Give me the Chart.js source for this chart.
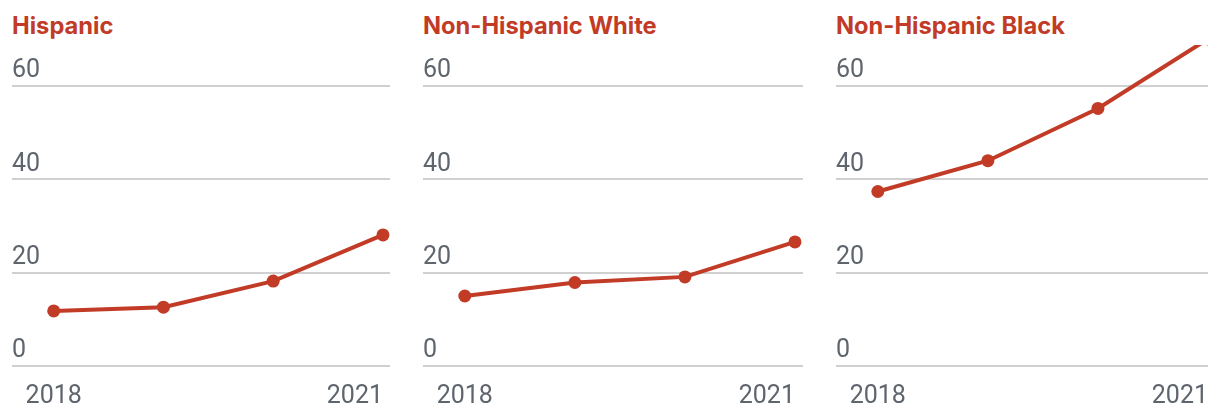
<!DOCTYPE html>
<html>
<head>
<meta charset="utf-8">
<script src="https://cdn.jsdelivr.net/npm/chart.js@4"></script>
<style>
  html, body { margin: 0; padding: 0; background: #fff; }
  body { width: 1220px; height: 416px; position: relative; overflow: hidden; }
  .panel { position: absolute; top: 0; height: 416px; }
  .panel h2 {
    position: absolute; left: 0; top: 14px; margin: 0;
    font: 700 23.7px/1 Inter, sans-serif; color: #c13b27; white-space: nowrap;
  }
  .panel canvas { position: absolute; left: 0; top: 0; }
</style>
</head>
<body>
<div class="panel" id="p0" style="left:12px;width:378px"><h2>Hispanic</h2><canvas id="c0"></canvas></div>
<div class="panel" id="p1" style="left:423px;width:380px"><h2>Non-Hispanic White</h2><canvas id="c1"></canvas></div>
<div class="panel" id="p2" style="left:836px;width:372px"><h2>Non-Hispanic Black</h2><canvas id="c2"></canvas></div>
<script>
const YEARS = [2018, 2019, 2020, 2021];
const HISPANIC = [11.8, 12.6, 18.2, 28.1];
const NH_WHITE = [15.0, 17.9, 19.1, 26.6];
const NH_BLACK = [37.4, 44.0, 55.2, 70.1];
const Y_TICKS = [0, 20, 40, 60];
const X_LABELS = ['2018', '2021'];

const RED = '#c13b27';
const GREY = '#5f656d';
const TICK_FONT = { family: 'Roboto', size: 25 };

// year labels: first centred on its point, last right-aligned to its point
const yearLabels = {
    id: 'yearLabels',
    afterDraw(chart) {
        const ctx = chart.ctx;
        const x = chart.scales.x;
        const y = chart.chartArea.bottom + 31;
        ctx.save();
        ctx.font = TICK_FONT.size + 'px ' + TICK_FONT.family;
        ctx.fillStyle = GREY;
        ctx.textBaseline = 'middle';
        ctx.textAlign = 'center';
        ctx.fillText(X_LABELS[0], x.getPixelForValue(YEARS[0]), y);
        ctx.textAlign = 'right';
        ctx.fillText(X_LABELS[1], x.getPixelForValue(YEARS[YEARS.length - 1]), y);
        ctx.restore();
    }
};

function makeChart(id, values, xMax) {
    const el = document.getElementById(id);
    return new Chart(el, {
        type: 'line',
        data: {
            datasets: [{
                data: YEARS.map((yr, i) => ({ x: yr, y: values[i] })),
                borderColor: RED,
                backgroundColor: RED,
                borderWidth: 4,
                pointRadius: 6.5,
                pointBorderWidth: 0,
                pointBackgroundColor: RED,
                tension: 0,
                clip: 0,
            }],
        },
        options: {
            responsive: true,
            maintainAspectRatio: false,
            animation: false,
            events: [],
            layout: { autoPadding: false, padding: { top: 45, bottom: 50, left: 0, right: 0 } },
            plugins: { legend: { display: false }, tooltip: { enabled: false } },
            scales: {
                x: {
                    type: 'linear',
                    display: false,
                    min: 2017.62,
                    max: xMax,
                },
                y: {
                    min: 0,
                    max: 68.8,
                    afterBuildTicks: s => { s.ticks = Y_TICKS.map(v => ({ value: v })); },
                    border: { display: false },
                    grid: { color: '#d0d0d0', lineWidth: 2, drawTicks: false },
                    ticks: {
                        mirror: true,
                        padding: 0,
                        labelOffset: -15,
                        color: GREY,
                        font: TICK_FONT,
                    },
                },
            },
        },
        plugins: [yearLabels],
    });
}

makeChart('c0', HISPANIC, 2021.064);
makeChart('c1', NH_WHITE, 2021.073);
makeChart('c2', NH_BLACK, 2021.0);
</script>
</body>
</html>
